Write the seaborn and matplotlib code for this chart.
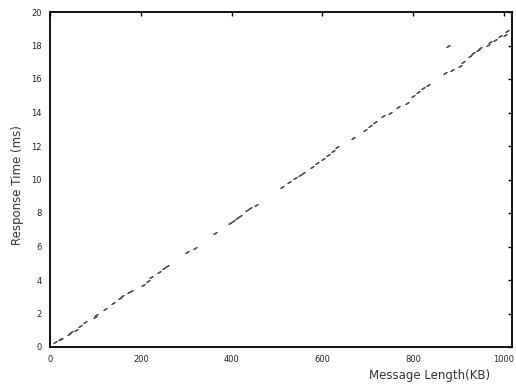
import matplotlib
matplotlib.use("Agg")
import matplotlib.pyplot as plt
import seaborn as sns
import pandas as pd

msg_len_kb = [10.4, 21.4, 24.9, 41.2, 46.9, 57.9, 65.4, 77.8, 98.5, 102.0, 120.5, 138.8,
              153.5, 158.6, 174.0, 179.1, 204.8, 215.9, 223.1, 240.1, 251.1, 258.4, 301.1,
              319.4, 363.4, 396.5, 403.7, 411.2, 418.5, 433.3, 440.5, 453.7, 510.4, 527.1,
              539.6, 550.7, 558.0, 576.4, 587.4, 602.0, 613.0, 624.0, 631.5, 668.1, 693.8,
              704.8, 715.9, 734.1, 748.9, 767.2, 785.7, 799.6, 811.2, 822.2, 833.3, 870.0,
              884.8, 903.1, 910.4, 925.1, 932.4, 943.4, 947.1, 965.4, 969.2, 980.2, 991.2,
              1002.2, 1005.9, 877.3]
resp_ms = [0.28, 0.46, 0.50, 0.78, 0.88, 1.02, 1.26, 1.48, 1.81, 1.91, 2.27, 2.61,
           2.91, 3.05, 3.27, 3.37, 3.71, 3.96, 4.17, 4.47, 4.70, 4.84, 5.66,
           5.90, 6.80, 7.43, 7.55, 7.69, 7.85, 8.15, 8.29, 8.49, 9.55, 9.84,
           10.08, 10.28, 10.38, 10.74, 10.98, 11.25, 11.48, 11.72, 11.94, 12.47, 12.97,
           13.17, 13.41, 13.77, 14.00, 14.33, 14.57, 15.00, 15.20, 15.46, 15.66, 16.36,
           16.56, 16.75, 16.99, 17.39, 17.55, 17.75, 17.85, 18.05, 18.19, 18.35, 18.59,
           18.65, 18.85, 17.95]
x_ticks = [0, 200, 400, 600, 800, 1000]
y_ticks = [0, 2, 4, 6, 8, 10, 12, 14, 16, 18, 20]

sns.set_style("white")
plt.rcParams['font.family'] = ['DejaVu Sans']

df = pd.DataFrame({"x": msg_len_kb, "y": resp_ms})
fig = plt.figure(figsize=(5.16, 3.87), dpi=100)
ax = fig.add_axes([50/516, 1-347/387, 462/516, 335/387])
sns.scatterplot(data=df, x="x", y="y", ax=ax, marker=(2, 2, -55), s=6, color="#555555",
                linewidth=0.9, legend=False)

ax.set_xlim(0, 1018)
ax.set_ylim(0, 20)
ax.set_xticks(x_ticks)
ax.set_xticklabels([str(t) for t in x_ticks], fontsize=6, color="#222222")
ax.set_yticks(y_ticks)
ax.set_yticklabels([str(t) for t in y_ticks], fontsize=6, color="#222222")
ax.tick_params(axis="both", direction="in", length=3, width=1, top=True, right=True,
               color="black", pad=6)
for s in ax.spines.values():
    s.set_visible(True)
    s.set_color("black")
    s.set_linewidth(1.3)
ax.set_xlabel("")
ax.set_ylabel("")
fig.text(18/516, 1-185/387, "Response Time (ms)", fontsize=8.5, color="#333333",
         ha="center", va="center", rotation=90)
fig.text(430/516, 1-375/387, "Message Length(KB)", fontsize=8.5, color="#333333",
         ha="center", va="center")
fig.savefig("out.png", dpi=100)
